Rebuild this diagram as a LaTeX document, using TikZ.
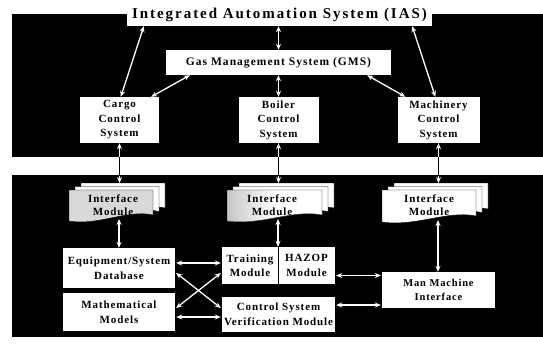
\documentclass[tikz,border=0pt]{standalone}
\usepackage{fontspec}
\setmainfont{Liberation Serif}
\usetikzlibrary{arrows.meta}
\begin{document}
\begin{tikzpicture}[x=1pt,y=-1pt,
  box/.style={fill=white, inner sep=0pt, align=center,
    font=\bfseries\fontsize{11}{14.5}\selectfont\addfontfeature{LetterSpace=8}},
  modtext/.style={inner sep=0pt, align=center,
    font=\bfseries\fontsize{11}{13.5}\selectfont\addfontfeature{LetterSpace=8}},
  arr/.style={draw=white, line width=1.3pt,
    {Stealth[length=6pt,width=5pt]}-{Stealth[length=6pt,width=5pt]}},
  page/.style={fill=white, draw=black, line width=0.4pt},
]
\useasboundingbox (0,0) rectangle (543,345);
\fill[white] (0,0) rectangle (543,345);
\fill[black] (12,14) rectangle (543,157);
\fill[black] (12,175) rectangle (543,337);

% ---------- top panel ----------
\node[box, minimum width=305, minimum height=23,
  font=\bfseries\fontsize{15}{17}\selectfont\addfontfeature{LetterSpace=13}]
  (ias) at (279.5,14.5) {Integrated Automation System (IAS)};
\node[box, minimum width=225, minimum height=25,
  font=\bfseries\fontsize{11.5}{14}\selectfont\addfontfeature{LetterSpace=9}]
  (gms) at (278.5,62.5) {Gas Management System (GMS)};
\node[box, minimum width=79, minimum height=46] (cargo) at (119.5,120) {Cargo\\Control\\System};
\node[box, minimum width=80, minimum height=46] (boiler) at (278.5,120) {Boiler\\Control\\System};
\node[box, minimum width=82, minimum height=46] (mach) at (438.5,120) {Machinery\\Control\\System};

\draw[arr] ([xshift=17pt]ias.south west) -- ([xshift=41pt]cargo.north west);
\draw[arr] (gms.north |- ias.south) -- (gms.north);
\draw[arr] ([xshift=-20pt]ias.south east) -- ([xshift=38pt]mach.north west);
\draw[arr] ([xshift=24pt]gms.south west) -- ([xshift=-8pt]cargo.north east);
\draw[arr] (boiler.north |- gms.south) -- (boiler.north);
\draw[arr] ([xshift=-24pt]gms.south east) -- ([xshift=8pt]mach.north west);

% ---------- interface modules ----------
% #1 left, #2 right, #3 top of front page, #4 bottom-left of front page, #5 front fill
\newcommand\ifacestack[5]{%
  \foreach \k in {2,1} {%
    \path[page] ({#1+6*\k},{#3-3.5*\k}) -- ({#2+6*\k},{#3-3.5*\k}) -- ({#2+6*\k},{#4-3.5*\k-6})
      .. controls ({#2+6*\k-0.3*(#2-#1)},{#4-3.5*\k-12}) and ({#1+6*\k+0.35*(#2-#1)},{#4-3.5*\k+5}) ..
      ({#1+6*\k},{#4-3.5*\k}) -- cycle;
  }%
  \path[page, #5] (#1,#3) -- (#2,#3) -- (#2,{#4-6})
      .. controls ({#2-0.3*(#2-#1)},{#4-12}) and ({#1+0.35*(#2-#1)},{#4+5}) ..
      (#1,#4) -- cycle;
}
\ifacestack{69}{153}{190}{221}{fill=gray!30}
\ifacestack{227}{322}{190}{221}{left color=gray!45, right color=white, middle color=white}
\ifacestack{382}{476}{190}{222}{fill=white}
\node[modtext] (if1) at (113,205) {Interface\\Module};
\node[modtext] (if2) at (272,205) {Interface\\Module};
\node[modtext] (if3) at (429,205) {Interface\\Module};
\coordinate (if1t) at (119.5,183);
\coordinate (if2t) at (278.5,183);
\coordinate (if3t) at (438.5,183);
\coordinate (if1b) at (119,219);
\coordinate (if2b) at (278,219);
\coordinate (if3b) at (438,220);

% ---------- bottom boxes ----------
\node[box, minimum width=112, minimum height=40] (db) at (119,268) {Equipment/System\\Database};
\node[box, minimum width=112, minimum height=38] (mm) at (119,312) {Mathematical\\Models};
\node[box, minimum width=56, minimum height=37] (train) at (250,265.5) {Training\\Module};
\node[box, minimum width=57, minimum height=37] (hazop) at (306.5,265.5) {HAZOP\\Module};
\draw[black, line width=0.8pt] (train.north east) -- (train.south east);
\node[box, minimum width=113, minimum height=35] (csv) at (278.5,314.5) {Control System\\Verification Module};
\node[box, minimum width=113, minimum height=36,
  font=\bfseries\fontsize{10.5}{14.5}\selectfont\addfontfeature{LetterSpace=8}]
  (mmi) at (438.5,290) {Man Machine\\Interface};

% vertical links between panels (white in panels, black in the gap)
\newcommand\crossarrows[1]{%
  \draw[arr,#1] (cargo.south) -- (if1t);
  \draw[arr,#1] (boiler.south) -- (if2t);
  \draw[arr,#1] (mach.south) -- (if3t);
}
\crossarrows{}
\begin{scope}
  \clip (0,157) rectangle (543,175);
  \crossarrows{draw=black}
\end{scope}

\draw[arr] (if1b) -- (if1b |- db.north);
\draw[arr] (if2b) -- (if2b |- train.north);
\draw[arr] (if3b) -- (if3b |- mmi.north);

\draw[arr] ([xshift=1pt,yshift=5pt]db.east) -- ([xshift=-1pt,yshift=5pt]db.east -| train.west);
\draw[arr] ([xshift=1pt,yshift=-5pt]db.east) -- ([xshift=-1pt,yshift=6.5pt]csv.west);
\draw[arr] ([xshift=1pt,yshift=4pt]mm.east) -- ([xshift=-1pt,yshift=-7.5pt]train.west);
\draw[arr] ([xshift=1pt,yshift=-5pt]mm.east) -- ([xshift=-1pt,yshift=-5pt]mm.east -| csv.west);
\draw[arr] ([xshift=1pt,yshift=-10pt]hazop.east) -- ([xshift=-1pt,yshift=-10pt]hazop.east -| mmi.west);
\draw[arr] ([xshift=1pt,yshift=9.5pt]csv.east) -- ([xshift=-1pt,yshift=9.5pt]csv.east -| mmi.west);
\end{tikzpicture}
\end{document}
